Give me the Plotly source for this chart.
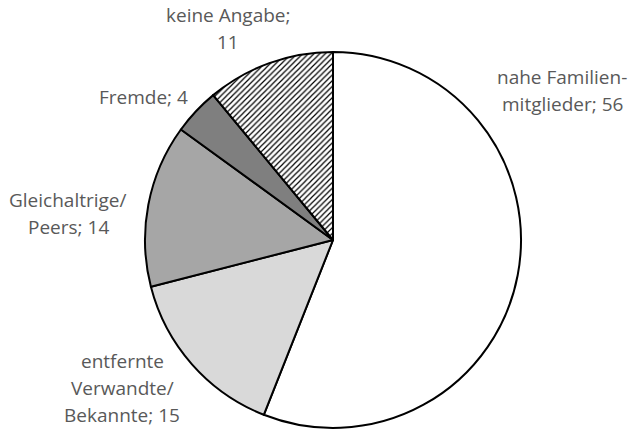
import plotly.graph_objects as go

categories = ["nahe Familienmitglieder", "entfernte Verwandte/Bekannte", "Gleichaltrige/Peers", "Fremde", "keine Angabe"]
values = [56, 15, 14, 4, 11]
colors = ["#ffffff", "#d9d9d9", "#a6a6a6", "#7f7f7f", "#ffffff"]
patterns = ["", "", "", "", "/"]

label_lines = [
    ["nahe Familien-", "mitglieder; 56"],
    ["entfernte", "Verwandte/", "Bekannte; 15"],
    ["Gleichaltrige/", "Peers; 14"],
    ["Fremde; 4"],
    ["keine Angabe;", "11"],
]
# label centres in pixels (x, y of first line)
label_pos = [(562, 77), (122, 361), (68, 200), (143, 97), (228, 15)]
line_step = 27

W, H = 634, 430
cx, cy, r = 333, 240, 188

fig = go.Figure(go.Pie(
    labels=categories, values=values, sort=False, direction="clockwise", rotation=0,
    marker=dict(colors=colors, line=dict(color="#000000", width=2),
                pattern=dict(shape=patterns, fgcolor="#000000", bgcolor="#ffffff",
                             size=4, solidity=0.3)),
    textinfo="none", hoverinfo="label+value", showlegend=False,
    domain=dict(x=[(cx - r) / W, (cx + r) / W], y=[1 - (cy + r) / H, 1 - (cy - r) / H]),
))

annotations = []
for lines, (x, y) in zip(label_lines, label_pos):
    for i, t in enumerate(lines):
        annotations.append(dict(
            text=t, x=x / W, y=1 - (y + i * line_step) / H, xref="paper", yref="paper",
            showarrow=False, xanchor="center", yanchor="middle",
            font=dict(family="Open Sans", size=19, color="#595959"),
        ))

fig.update_layout(width=W, height=H, margin=dict(l=0, r=0, t=0, b=0),
                  paper_bgcolor="white", plot_bgcolor="white", annotations=annotations)
fig.write_html("out.html", config={"displayModeBar": False},
               post_script="document.body.style.margin='0';")
